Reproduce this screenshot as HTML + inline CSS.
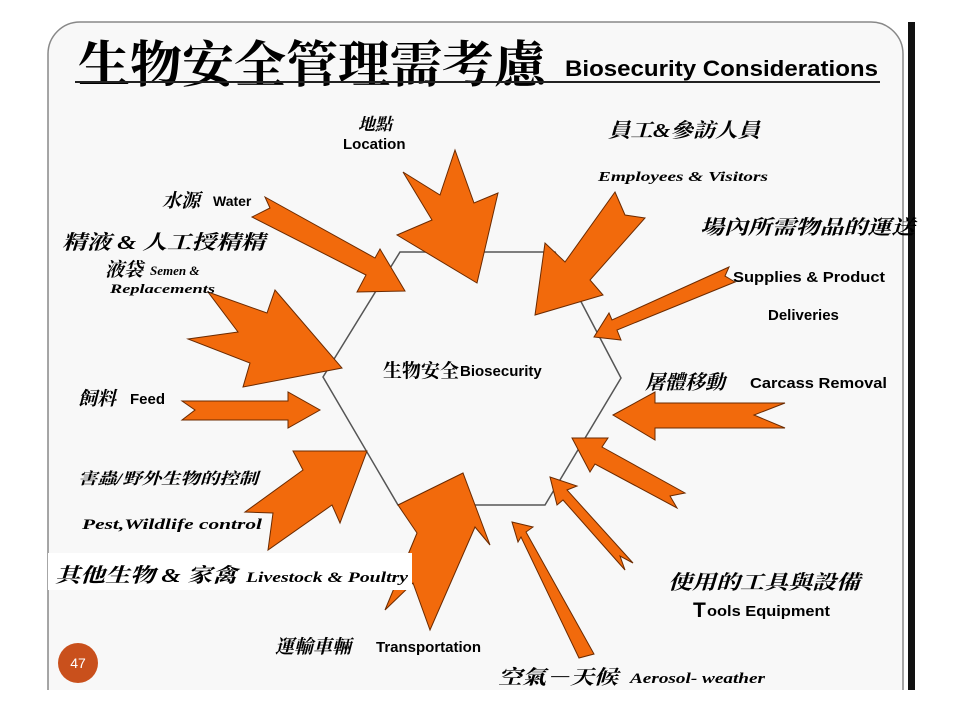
<!DOCTYPE html>
<html><head><meta charset="utf-8"><style>
html,body{margin:0;padding:0;background:#fff;}
svg{display:block}
text{font-family:"Liberation Sans","Noto Sans CJK TC",sans-serif;}
.cj{font-family:"Liberation Serif","Noto Serif CJK SC","Noto Sans CJK TC",serif;font-style:italic;font-weight:bold;}
.b{font-weight:bold;}
.s{font-family:"Liberation Serif",serif;font-style:italic;font-weight:bold;}
</style></head><body>
<svg width="960" height="720" viewBox="0 0 960 720" xmlns="http://www.w3.org/2000/svg">
<defs><clipPath id="c"><rect x="0" y="0" width="960" height="690"/></clipPath></defs>
<rect x="0" y="0" width="960" height="720" fill="#fff"/>
<g clip-path="url(#c)">
<rect x="48" y="22" width="855" height="700" rx="32" fill="#f8f8f8" stroke="#888" stroke-width="1.5"/>
</g>
<rect x="908" y="22" width="7" height="668" fill="#111"/>
<!-- title -->
<text x="78" y="82" font-size="50" class="cj" style="font-style:normal" textLength="468" lengthAdjust="spacingAndGlyphs">生物安全管理需考慮</text>
<text x="565" y="76" font-size="22" class="b" textLength="313" lengthAdjust="spacingAndGlyphs">Biosecurity Considerations</text>
<line x1="75" y1="82" x2="880" y2="82" stroke="#222" stroke-width="2"/>
<!-- hexagon -->
<polygon points="400,252 555,252 621,378 545,505 398,505 323,377" fill="#f8f8f8" stroke="#555" stroke-width="1.5"/>
<g fill="#f26a0c" stroke="#6b2a00" stroke-width="1" stroke-linejoin="miter">
<polygon points="265,197 375,258 380,249 405,291 357,292 366,275 252,217 270,208"/>
<polygon points="455,150 474,203 498,193 477,283 397,235 432,220 403,172 440,195"/>
<polygon points="615,192 625,215 645,218 590,280 603,295 535,315 545,243 565,262"/>
<polygon points="729,267 612,320 609,313 594,337 621,340 617,330 735,282 725,276"/>
<polygon points="208,292 267,313 275,290 342,368 243,387 250,363 188,339 238,332"/>
<polygon points="182,401 288,401 288,392 320,410 288,428 288,420 182,420 195,410"/>
<polygon points="293,451 367,451 340,523 332,505 268,550 273,513 245,512 303,470"/>
<polygon points="398,505 463,473 490,545 475,527 430,630 413,583 385,610 417,533"/>
<polygon points="613,415 655,392 655,403 785,403 754,415 785,428 655,428 655,440"/>
<polygon points="572,438 608,438 602,447 685,493 670,496 677,508 595,464 590,472"/>
<polygon points="550,477 577,486 567,490 633,563 620,556 625,570 563,500 557,505"/>
<polygon points="512,522 533,527 526,532 594,654 579,658 521,537 518,542"/>
</g>
<!-- labels -->
<text x="358" y="130" font-size="17" class="cj">地點</text>
<text x="343" y="149" font-size="15" class="b">Location</text>
<text x="608" y="137" font-size="20" class="cj" textLength="152" lengthAdjust="spacingAndGlyphs">員工&amp;參訪人員</text>
<text x="598" y="181" font-size="14" class="s" textLength="170" lengthAdjust="spacingAndGlyphs">Employees &amp; Visitors</text>
<text x="162" y="207" font-size="19" class="cj">水源</text>
<text x="213" y="206" font-size="14" class="b">Water</text>
<text x="62" y="249" font-size="20" class="cj" textLength="203" lengthAdjust="spacingAndGlyphs">精液 &amp; 人工授精精</text>
<text x="105" y="276" font-size="19" class="cj">液袋</text>
<text x="150" y="275" font-size="13" class="s">Semen &amp;</text>
<text x="110" y="293" font-size="13" class="s" textLength="105" lengthAdjust="spacingAndGlyphs">Replacements</text>
<text x="700" y="234" font-size="20" class="cj" textLength="215" lengthAdjust="spacingAndGlyphs">場內所需物品的運送</text>
<text x="733" y="282" font-size="15" class="b" textLength="152" lengthAdjust="spacingAndGlyphs">Supplies &amp; Product</text>
<text x="768" y="320" font-size="15" class="b">Deliveries</text>
<text x="383" y="377" font-size="19" class="cj" style="font-style:normal">生物安全</text>
<text x="460" y="376" font-size="15" class="b">Biosecurity</text>
<text x="645" y="389" font-size="20" class="cj">屠體移動</text>
<text x="750" y="388" font-size="15" class="b" textLength="137" lengthAdjust="spacingAndGlyphs">Carcass Removal</text>
<text x="78" y="405" font-size="19" class="cj">飼料</text>
<text x="130" y="404" font-size="15" class="b">Feed</text>
<text x="78" y="484" font-size="16" class="cj" textLength="180" lengthAdjust="spacingAndGlyphs">害蟲/野外生物的控制</text>
<text x="82" y="529" font-size="15" class="s" textLength="180" lengthAdjust="spacingAndGlyphs">Pest,Wildlife control</text>
<rect x="48" y="553" width="364" height="37" fill="#fff"/>
<text x="55" y="582" font-size="20" class="cj" textLength="182" lengthAdjust="spacingAndGlyphs">其他生物 &amp; 家禽</text>
<text x="246" y="582" font-size="15" class="s" textLength="162" lengthAdjust="spacingAndGlyphs">Livestock &amp; Poultry</text>
<text x="668" y="589" font-size="20" class="cj" textLength="192" lengthAdjust="spacingAndGlyphs">使用的工具與設備</text>
<text x="693" y="617" font-size="21" class="b">T</text>
<text x="707" y="616" font-size="15" class="b" textLength="123" lengthAdjust="spacingAndGlyphs">ools Equipment</text>
<text x="275" y="653" font-size="19" class="cj">運輸車輛</text>
<text x="376" y="652" font-size="15" class="b">Transportation</text>
<text x="498" y="684" font-size="20" class="cj" textLength="120" lengthAdjust="spacingAndGlyphs">空氣－天候</text>
<text x="630" y="683" font-size="15" class="s" textLength="135" lengthAdjust="spacingAndGlyphs">Aerosol- weather</text>
<circle cx="78" cy="663" r="20" fill="#c9501c"/>
<text x="78" y="668" font-size="14" fill="#fff" text-anchor="middle">47</text>
</svg>
</body></html>
